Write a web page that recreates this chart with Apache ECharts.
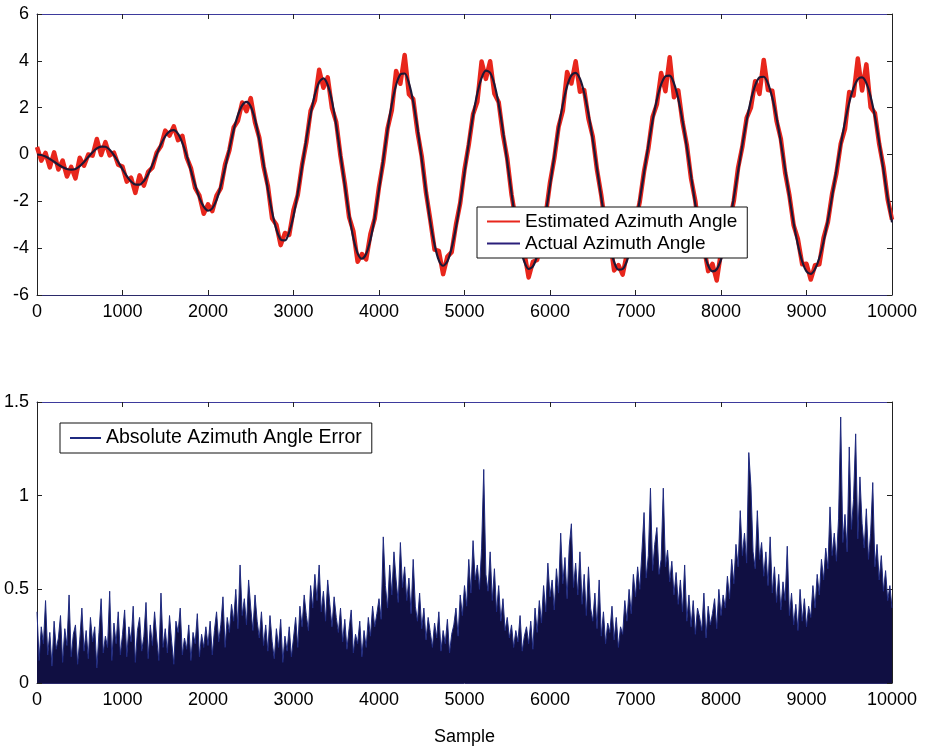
<!DOCTYPE html>
<html>
<head>
<meta charset="utf-8">
<script src="https://cdn.jsdelivr.net/npm/echarts@6/dist/echarts.min.js"></script>
<style>
html,body{margin:0;padding:0;background:#fff;}
#chart{width:925px;height:752px;}
</style>
</head>
<body>
<div id="chart"></div>
<script>
// Sample spacing of the angle arrays (samples between stored values)
const angleStep = 50;
// Actual azimuth angle, every 50 samples (0..10000)
const actualAngle = [
0.00,-0.02,-0.09,-0.19,-0.31,-0.44,-0.54,-0.62,-0.65,-0.62,
-0.50,-0.32,-0.11,0.10,0.26,0.34,0.33,0.20,-0.03,-0.32,
-0.63,-0.92,-1.15,-1.28,-1.29,-1.13,-0.84,-0.44,0.01,0.44,
0.78,0.99,1.04,0.88,0.50,-0.04,-0.68,-1.31,-1.85,-2.23,
-2.40,-2.30,-1.94,-1.33,-0.57,0.25,1.04,1.68,2.10,2.25,
2.05,1.49,0.63,-0.40,-1.48,-2.46,-3.20,-3.63,-3.67,-3.31,
-2.62,-1.64,-0.52,0.65,1.71,2.56,3.09,3.25,2.97,2.28,
1.24,-0.01,-1.32,-2.56,-3.57,-4.22,-4.45,-4.24,-3.63,-2.69,
-1.50,-0.21,1.05,2.16,2.97,3.42,3.46,3.05,2.25,1.12,
-0.21,-1.57,-2.88,-3.85,-4.52,-4.75,-4.56,-3.99,-3.12,-2.02,
-0.77,0.51,1.66,2.61,3.27,3.58,3.49,2.99,2.14,1.00,
-0.31,-1.65,-2.89,-3.91,-4.59,-4.89,-4.78,-4.32,-3.54,-2.52,
-1.32,-0.08,1.12,2.14,2.92,3.38,3.49,3.24,2.63,1.73,
0.63,-0.61,-1.84,-2.97,-3.92,-4.59,-4.92,-4.89,-4.54,-3.89,
-3.00,-1.93,-0.78,0.38,1.45,2.34,2.99,3.34,3.37,3.04,
2.38,1.44,0.32,-0.92,-2.14,-3.24,-4.14,-4.74,-4.99,-4.90,
-4.49,-3.82,-2.91,-1.84,-0.71,0.41,1.45,2.32,2.95,3.29,
3.32,3.03,2.42,1.57,0.52,-0.63,-1.81,-2.94,-3.86,-4.57,
-4.99,-5.10,-4.89,-4.42,-3.71,-2.81,-1.77,-0.68,0.40,1.39,
2.22,2.84,3.21,3.29,3.05,2.47,1.62,0.54,-0.65,-1.87,
-2.90];
// Estimated azimuth angle (noisy), read every 50 samples
const estimatedAngle = [
0.32,-0.26,0.07,-0.55,0.09,-0.64,-0.26,-0.94,-0.53,-1.02,
-0.14,-0.48,0.00,-0.05,0.66,-0.02,0.53,-0.04,0.08,-0.44,
-0.52,-1.16,-0.99,-1.64,-0.89,-1.33,-0.74,-0.56,0.08,0.36,
1.02,0.81,1.20,0.61,0.80,-0.12,-0.58,-1.43,-1.76,-2.53,
-2.13,-2.42,-1.76,-1.44,-0.42,0.18,1.15,1.44,2.22,1.85,
2.41,1.37,0.72,-0.51,-1.33,-2.73,-3.00,-3.87,-3.35,-3.43,
-2.38,-1.73,-0.46,0.52,1.86,2.31,3.62,2.85,3.30,1.98,
1.38,-0.07,-1.23,-2.67,-3.27,-4.58,-4.25,-4.48,-3.39,-2.74,
-1.38,-0.30,1.11,1.89,3.57,3.02,4.25,2.57,2.37,0.97,
-0.08,-1.63,-2.79,-4.06,-4.12,-5.11,-4.36,-4.17,-3.00,-2.07,
-0.65,0.42,1.72,2.25,3.97,3.23,3.98,2.59,2.23,0.85,
-0.18,-1.71,-2.80,-4.12,-4.19,-5.25,-4.58,-4.50,-3.42,-2.57,
-1.20,-0.17,1.18,1.87,3.52,3.03,3.98,2.68,2.75,1.53,
0.77,-0.67,-1.75,-3.08,-3.62,-4.95,-4.72,-5.13,-4.22,-3.98,
-2.88,-2.02,-0.72,0.25,1.60,2.14,3.48,2.70,4.15,2.44,
2.74,1.38,0.41,-1.03,-1.99,-3.51,-3.94,-4.98,-4.67,-5.38,
-4.17,-4.00,-2.85,-1.98,-0.56,0.34,1.56,2.00,3.13,2.59,
4.04,2.75,2.72,1.43,0.67,-0.77,-1.74,-3.03,-3.62,-4.69,
-4.67,-5.34,-4.73,-4.69,-3.56,-2.89,-1.67,-0.80,0.45,1.09,
2.67,2.52,4.10,2.73,3.85,2.02,1.77,0.45,-0.53,-1.92,
-2.78];
// Absolute azimuth angle error, read every 25 samples
const errorStep = 25;
const absError = [
0.38,0.12,0.30,0.21,0.44,0.15,0.27,0.09,0.33,0.18,0.24,0.36,0.11,0.29,0.20,0.47,0.14,0.26,0.31,0.10,
0.23,0.40,0.17,0.28,0.13,0.35,0.22,0.30,0.08,0.27,0.45,0.16,0.25,0.19,0.49,0.12,0.32,0.21,0.38,0.15,
0.26,0.39,0.14,0.30,0.22,0.41,0.11,0.28,0.35,0.17,0.25,0.43,0.13,0.31,0.20,0.38,0.24,0.12,0.48,0.19,
0.29,0.16,0.36,0.22,0.10,0.33,0.27,0.40,0.15,0.24,0.18,0.31,0.12,0.27,0.21,0.37,0.14,0.26,0.19,0.30,
0.20,0.33,0.15,0.28,0.38,0.22,0.31,0.46,0.19,0.35,0.27,0.42,0.33,0.50,0.29,0.63,0.36,0.45,0.31,0.55,
0.40,0.28,0.47,0.33,0.24,0.38,0.20,0.31,0.17,0.36,0.22,0.13,0.29,0.19,0.34,0.11,0.25,0.17,0.30,0.14,
0.24,0.35,0.19,0.41,0.30,0.47,0.36,0.28,0.52,0.40,0.58,0.44,0.63,0.38,0.49,0.33,0.55,0.42,0.30,0.46,
0.35,0.27,0.40,0.22,0.34,0.18,0.29,0.39,0.16,0.26,0.21,0.33,0.14,0.28,0.19,0.35,0.25,0.41,0.30,0.37,
0.45,0.34,0.78,0.52,0.40,0.63,0.47,0.70,0.55,0.43,0.75,0.51,0.62,0.44,0.56,0.37,0.66,0.41,0.33,0.48,
0.29,0.40,0.23,0.35,0.27,0.19,0.32,0.24,0.38,0.17,0.28,0.21,0.34,0.16,0.26,0.31,0.40,0.25,0.47,0.36,
0.52,0.41,0.66,0.48,0.76,0.55,0.63,0.50,0.72,1.14,0.58,0.49,0.70,0.44,0.61,0.38,0.52,0.33,0.45,0.28,
0.35,0.24,0.31,0.19,0.28,0.22,0.36,0.17,0.25,0.30,0.21,0.33,0.18,0.40,0.27,0.44,0.32,0.52,0.38,0.64,
0.46,0.55,0.39,0.61,0.48,0.80,0.53,0.67,0.45,0.73,0.85,0.51,0.64,0.47,0.70,0.42,0.58,0.36,0.62,0.40,
0.33,0.48,0.29,0.55,0.25,0.38,0.21,0.32,0.27,0.41,0.23,0.35,0.19,0.30,0.26,0.44,0.33,0.50,0.37,0.58,
0.46,0.62,0.50,0.70,0.91,0.56,0.68,1.04,0.60,0.74,0.83,0.58,0.66,1.04,0.62,0.71,0.54,0.65,0.47,0.59,
0.42,0.55,0.38,0.63,0.33,0.47,0.30,0.44,0.26,0.40,0.35,0.28,0.48,0.24,0.41,0.31,0.37,0.45,0.29,0.50,
0.36,0.47,0.40,0.57,0.45,0.66,0.53,0.74,0.62,0.92,0.68,0.80,0.64,1.23,1.05,0.70,0.61,0.92,0.66,0.75,
0.57,0.70,0.52,0.78,0.48,0.62,0.43,0.58,0.39,0.54,0.44,0.73,0.36,0.48,0.31,0.42,0.28,0.50,0.33,0.45,
0.30,0.41,0.35,0.52,0.40,0.58,0.47,0.66,0.55,0.72,0.61,0.94,0.68,0.80,0.65,0.88,1.42,0.75,0.90,0.70,
1.26,0.82,0.98,1.33,0.77,1.10,0.85,0.72,0.93,0.66,0.80,1.07,0.62,0.74,0.55,0.68,0.49,0.60,0.44,0.52,
0.40];
const xTickLabels = ['0','1000','2000','3000','4000','5000','6000','7000','8000','9000','10000'];
const seriesNames = ['Estimated Azimuth Angle','Actual Azimuth Angle','Absolute Azimuth Angle Error'];
const xAxisName = 'Sample';

const FONT = "'Liberation Sans', Arial, Helvetica, sans-serif";
const toPairs = (arr, step) => arr.map((v, i) => [i * step, v]);

function xAx(grid, pos, labels, extra) {
  return Object.assign({
    gridIndex: grid, type: 'value', position: pos, min: 0, max: 10000, interval: 1000,
    axisLine: {show: true, onZero: false, lineStyle: {color: pos === 'top' ? '#3d3a9c' : '#2b2a6a', width: 1}},
    axisTick: {show: true, inside: true, length: 5, lineStyle: {color: '#222'}},
    axisLabel: {show: labels, fontSize: 18, color: '#000', fontFamily: FONT, margin: 8,
      formatter: v => xTickLabels[Math.round(v / 1000)]},
    splitLine: {show: false}
  }, extra || {});
}
function yAx(grid, pos, labels, min, max, interval) {
  return {
    gridIndex: grid, type: 'value', position: pos, min: min, max: max, interval: interval,
    axisLine: {show: true, onZero: false, lineStyle: {color: '#222', width: 1}},
    axisTick: {show: true, inside: true, length: 5, lineStyle: {color: '#222'}},
    axisLabel: {show: labels, fontSize: 18, color: '#000', fontFamily: FONT, margin: 8},
    splitLine: {show: false}
  };
}

const chart = echarts.init(document.getElementById('chart'), null, {renderer: 'canvas'});
chart.setOption({
  animation: false,
  backgroundColor: '#fff',
  grid: [
    {left: 37, right: 33, top: 14, height: 281},
    {left: 37, right: 33, top: 402, height: 281}
  ],
  xAxis: [
    xAx(0, 'bottom', true),
    xAx(0, 'top', false),
    xAx(1, 'bottom', true, {name: xAxisName, nameLocation: 'middle', nameGap: 45,
      nameTextStyle: {fontSize: 18, color: '#000', fontFamily: FONT}}),
    xAx(1, 'top', false)
  ],
  yAxis: [
    yAx(0, 'left', true, -6, 6, 2),
    yAx(0, 'right', false, -6, 6, 2),
    yAx(1, 'left', true, 0, 1.5, 0.5),
    yAx(1, 'right', false, 0, 1.5, 0.5)
  ],
  legend: [
    {
      data: [seriesNames[0], seriesNames[1]], orient: 'vertical', left: 477, top: 207,
      icon: 'rect', itemWidth: 33, itemHeight: 2, itemGap: 3, padding: [5, 10, 5, 10],
      backgroundColor: '#fff', borderColor: '#111', borderWidth: 1, borderRadius: 0,
      textStyle: {fontSize: 19, color: '#000', fontFamily: FONT}
    },
    {
      data: [seriesNames[2]], orient: 'vertical', left: 60, top: 423,
      icon: 'rect', itemWidth: 31, itemHeight: 2, padding: [5, 10, 5, 10],
      backgroundColor: '#fff', borderColor: '#111', borderWidth: 1, borderRadius: 0,
      textStyle: {fontSize: 19.5, color: '#000', fontFamily: FONT}
    }
  ],
  series: [
    {
      name: seriesNames[0], type: 'line', xAxisIndex: 0, yAxisIndex: 0,
      data: toPairs(estimatedAngle, angleStep), symbol: 'none', z: 2,
      lineStyle: {color: '#e8261c', width: 4.5, join: 'round'}, itemStyle: {color: '#e8261c'}
    },
    {
      name: seriesNames[1], type: 'line', xAxisIndex: 0, yAxisIndex: 0,
      data: toPairs(actualAngle, angleStep), symbol: 'none', z: 3, smooth: 0.3,
      lineStyle: {color: '#1c1836', width: 2.2}, itemStyle: {color: '#2a1f7a'}
    },
    {
      name: seriesNames[2], type: 'line', xAxisIndex: 2, yAxisIndex: 2,
      data: toPairs(absError, errorStep), symbol: 'none', z: 2,
      lineStyle: {color: '#1f2a80', width: 1},
      areaStyle: {color: '#100f42', opacity: 1},
      itemStyle: {color: '#1f2a80'}
    }
  ]
});
</script>
</body>
</html>
